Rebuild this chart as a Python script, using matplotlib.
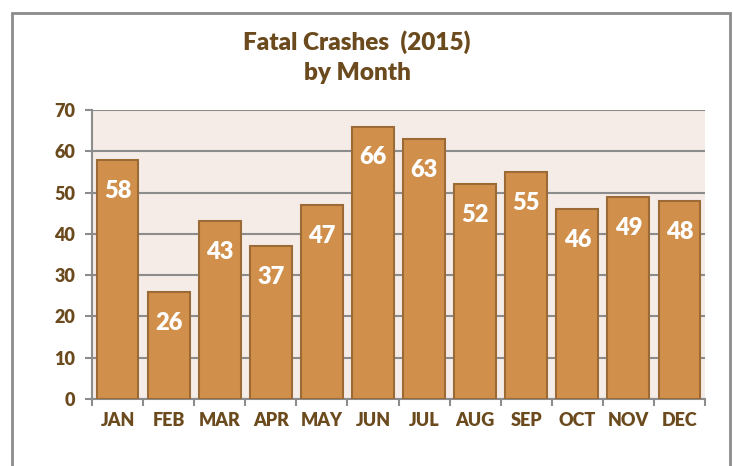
import matplotlib.pyplot as plt
from matplotlib.patches import Rectangle

# Data
months = ['JAN', 'FEB', 'MAR', 'APR', 'MAY', 'JUN', 'JUL', 'AUG', 'SEP', 'OCT', 'NOV', 'DEC']
crashes = [58, 26, 43, 37, 47, 66, 63, 52, 55, 46, 49, 48]
yticks = [0, 10, 20, 30, 40, 50, 60, 70]

text_color = '#6B4A1E'
bar_color = '#D0904C'
edge_color = '#9C6B35'
grid_color = '#8C8C8C'

plt.rcParams['font.family'] = ['Lato', 'DejaVu Sans']
W = 'heavy'

fig = plt.figure(figsize=(7.33, 4.66), dpi=100)
ax = fig.add_axes([92 / 733, 1 - 399 / 466, (705 - 92) / 733, (399 - 110) / 466])

# outer frame (bottom edge runs off the picture)
fig.patches.append(Rectangle((12 / 733, -0.05), (730 - 12) / 733, 1 - 13 / 466 + 0.05,
                             transform=fig.transFigure, fill=False,
                             edgecolor=grid_color, linewidth=2))

ax.set_facecolor('#F5ECE7')
x = range(len(months))
bars = ax.bar(x, crashes, width=0.82, color=bar_color, edgecolor=edge_color, linewidth=1.5, zorder=3)

for xi, v in zip(x, crashes):
    ax.text(xi, v - 7.5, str(v), ha='center', va='center', color='white',
            fontsize=17, fontweight=W, zorder=4)

ax.set_xlim(-0.5, len(months) - 0.5)
ax.set_ylim(0, 70)
ax.set_yticks(yticks)
ax.set_yticklabels([str(t) for t in yticks], fontsize=13, fontweight=W, color=text_color)
ax.set_xticks(list(x))
ax.set_xticklabels(months, fontsize=13, fontweight=W, color=text_color)
ax.set_xticks([i - 0.5 for i in range(len(months) + 1)], minor=True)
ax.tick_params(axis='x', which='major', length=0, pad=9)
ax.tick_params(axis='x', which='minor', length=5, width=1.5, color=grid_color)
ax.tick_params(axis='y', length=5, width=1.5, color=grid_color, pad=7)

ax.grid(axis='y', color=grid_color, linewidth=1.5, zorder=1)
ax.set_axisbelow(True)
for s in ['top', 'right']:
    ax.spines[s].set_visible(False)
for s in ['left', 'bottom']:
    ax.spines[s].set_color(grid_color)
    ax.spines[s].set_linewidth(1.5)

fig.text(357 / 733, 1 - 42 / 466, 'Fatal Crashes  (2015)', ha='center', va='center',
         fontsize=17.5, fontweight=W, color=text_color)
fig.text(357 / 733, 1 - 73 / 466, 'by Month', ha='center', va='center',
         fontsize=17.5, fontweight=W, color=text_color)

fig.savefig('out.png', dpi=100)
